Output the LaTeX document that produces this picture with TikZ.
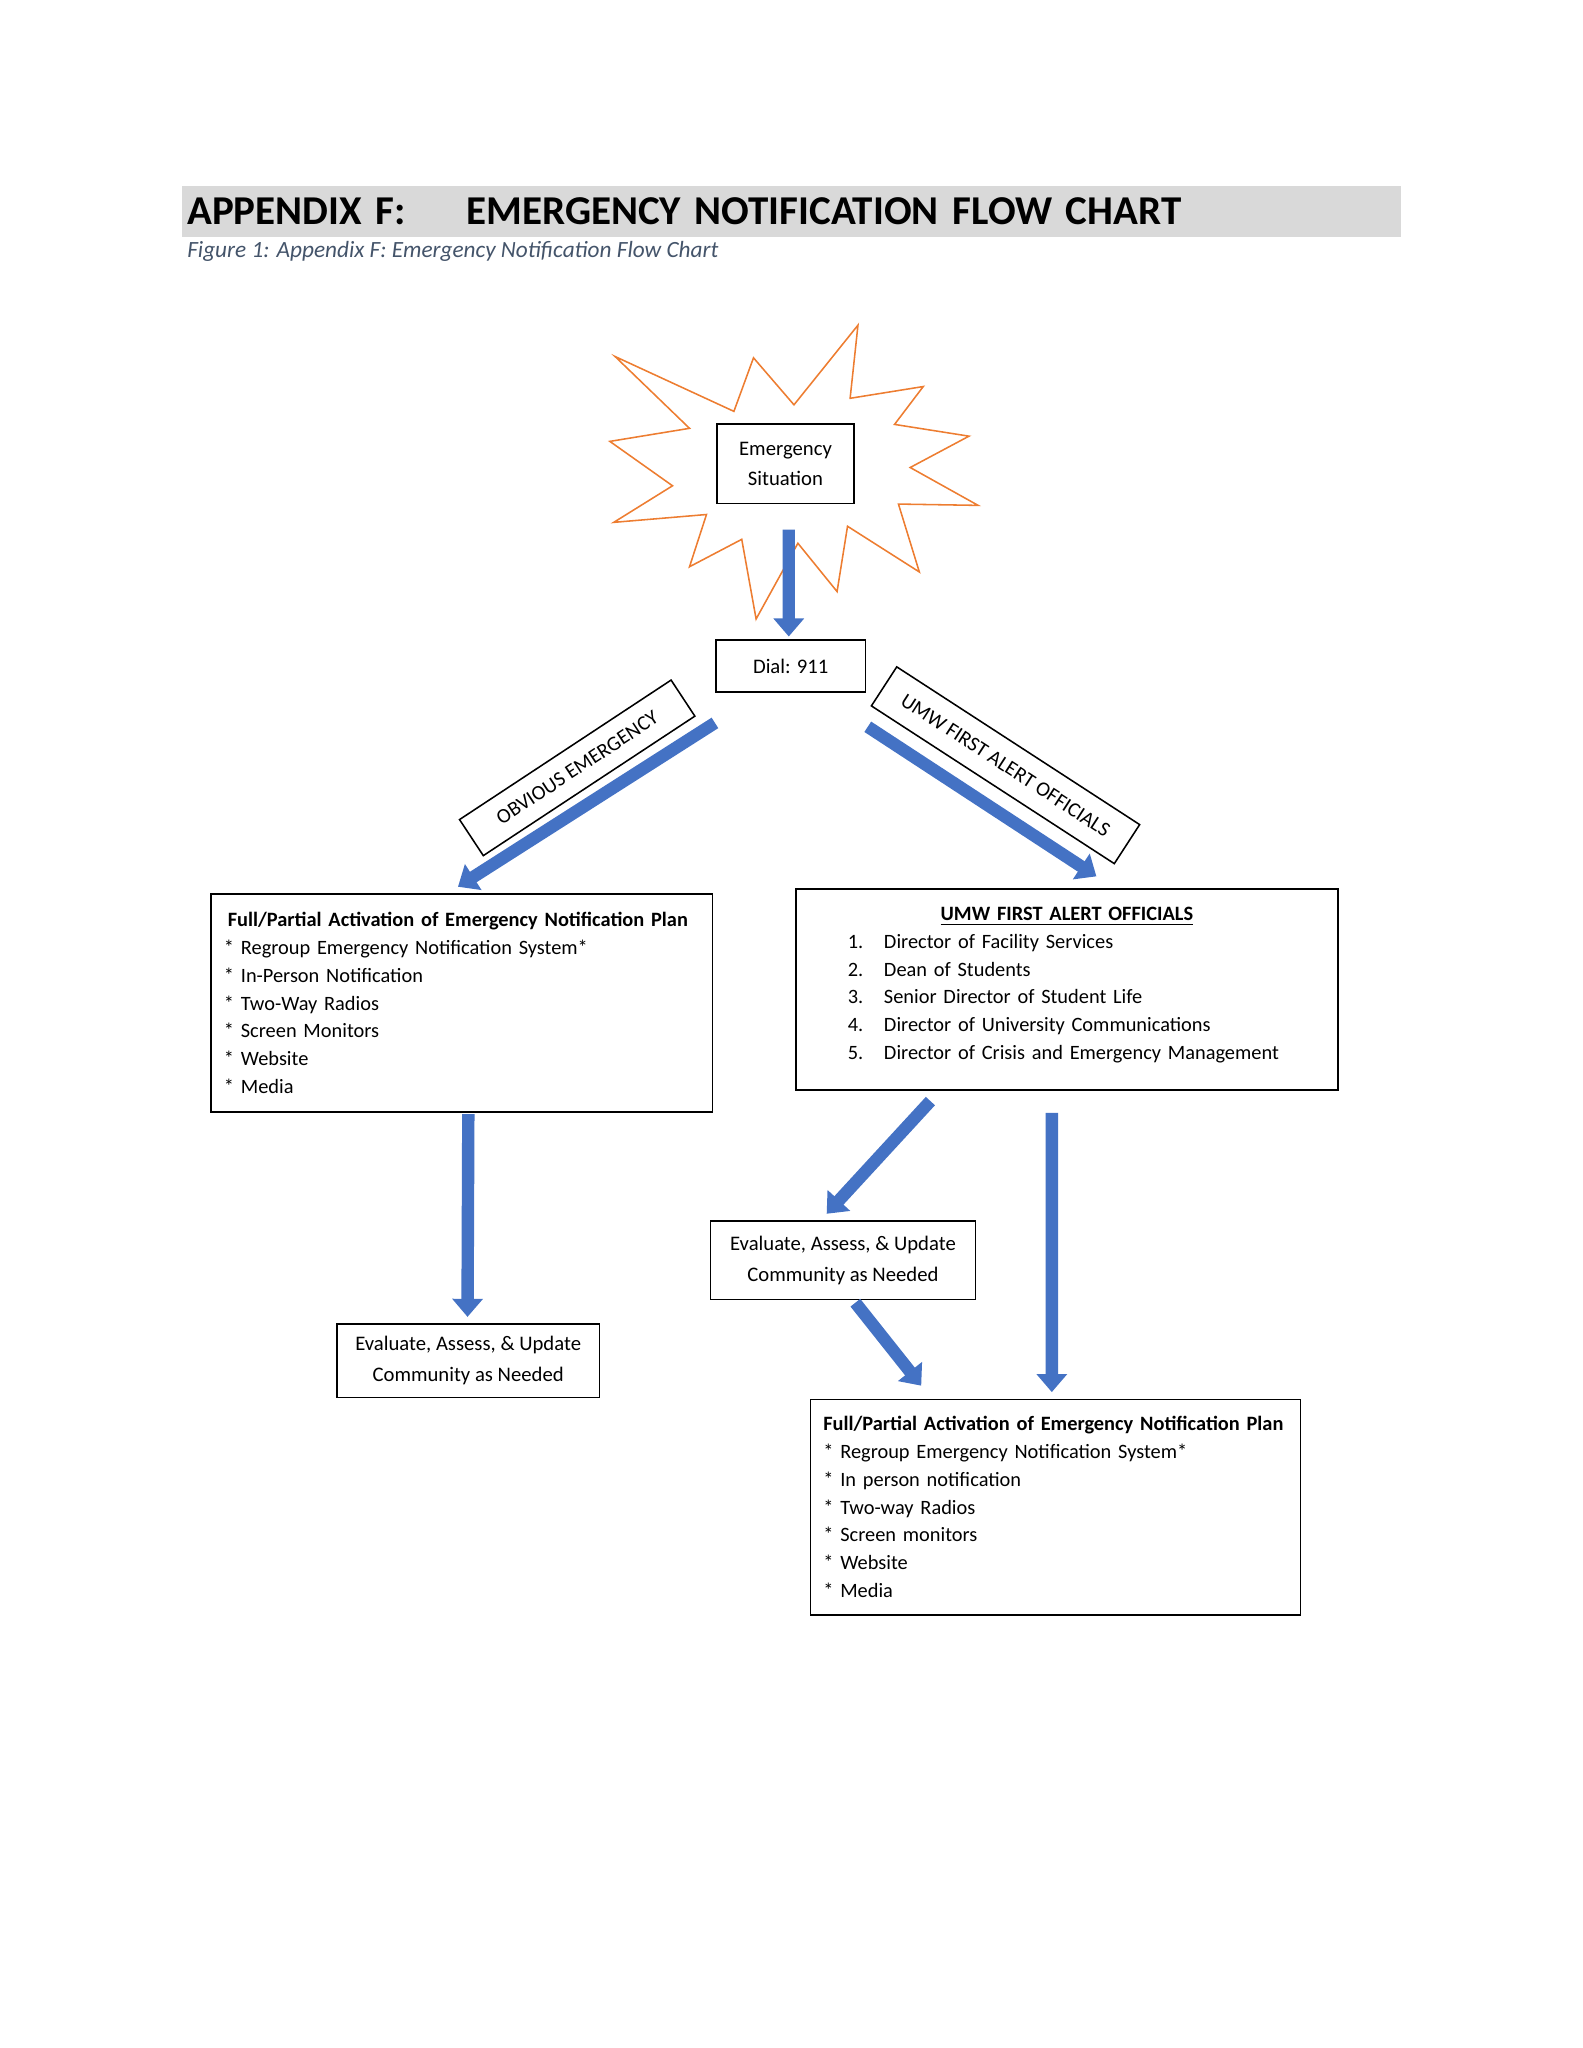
\documentclass[tikz,border=0pt]{standalone}
\usepackage{fontspec}
\setmainfont{Carlito}
\usepackage{xcolor}
\usetikzlibrary{arrows.meta, positioning, calc}
\definecolor{flowblue}{HTML}{4472C4}
\definecolor{burst}{HTML}{ED7D31}
\definecolor{bargray}{HTML}{D9D9D9}
\definecolor{capgray}{HTML}{44546A}

\begin{document}
\begin{tikzpicture}[x=0.505pt, y=-0.505pt,
  box/.style={draw, line width=0.6pt, inner sep=0pt, align=center, font=\fontsize{8}{12}\selectfont},
  listbox/.style={draw, line width=0.6pt, inner xsep=5pt, inner ysep=0pt, anchor=north west, align=left, font=\fontsize{7.88}{10.75}\selectfont},
  tag/.style={draw, line width=0.6pt, inner sep=0pt, font=\fontsize{8}{10}\selectfont},
  flow/.style={flowblue, line width=4.8pt, -{Triangle[length=7pt, width=11.5pt]}}]

\useasboundingbox (0,0) rectangle (1211.9,1568.3);

% Heading
\node[fill=bargray, anchor=north west, minimum width=471.2pt, minimum height=19.7pt, text width=467.2pt, inner xsep=2pt, inner ysep=0pt, align=left, font=\fontsize{15.85}{19}\selectfont\bfseries] (head) at (139,142) {\makebox[108pt][l]{APPENDIX F:}EMERGENCY NOTIFICATION FLOW CHART};
\node[anchor=base west, inner sep=0pt, text=capgray, font=\fontsize{9}{11}\selectfont\itshape] (cap) at (143,197) {Figure 1: Appendix F: Emergency Notification Flow Chart};

% Starburst
\draw[burst, line width=0.6pt, line join=miter] (471,273)
  \foreach \p in {(562,315),(577,274),(608,310),(657,249),(651,305),(707,296),(685,325),(742,334),(697,358),(749,387),(688,386),(704,438),(649,403),(641,453),(611,416),(579,474),(568,413),(528,434),(541,394),(470,400),(515,372),(467,338),(528,328)} {-- \p} -- cycle;
\node[box, fill=white, minimum width=53pt, minimum height=30.8pt, font=\fontsize{8}{11.5}\selectfont] (sit) at (601.5,355) {Emergency\\Situation};

% Dial and the two ways
\node[box, minimum width=58pt, minimum height=20.2pt] (dial) at (605.5,510) {Dial: 911};
\node[tag, rotate=33.4, minimum width=98pt, minimum height=16.7pt] (obv) at (442,588) {OBVIOUS EMERGENCY};
\node[tag, rotate=-33, minimum width=112pt, minimum height=18pt] (fao) at (770,586) {UMW FIRST ALERT OFFICIALS};

% Left branch
\node[listbox, minimum width=194pt, minimum height=84.3pt, text width=184pt] (plan1) at (161,684) {\mbox{\hspace*{1.5pt}\textbf{Full/Partial Activation of Emergency Notification Plan}}\\{}* Regroup Emergency Notification System*\\{}* In-Person Notification\\{}* Two-Way Radios\\{}* Screen Monitors\\{}* Website\\{}* Media};
\node[box, minimum width=101.5pt, minimum height=28.3pt] (eval1) at (358.5,1042) {Evaluate, Assess, \& Update\\Community as Needed};

% Right branch
\node[listbox, minimum width=209.5pt, minimum height=77.8pt, text width=199.5pt] (alert) at (609,680) {\makebox[199.5pt][c]{\textbf{\underline{UMW FIRST ALERT OFFICIALS}}}\\
  \hspace*{15pt}\makebox[14pt][l]{1.}Director of Facility Services\\
  \hspace*{15pt}\makebox[14pt][l]{2.}Dean of Students\\
  \hspace*{15pt}\makebox[14pt][l]{3.}Senior Director of Student Life\\
  \hspace*{15pt}\makebox[14pt][l]{4.}Director of University Communications\\
  \hspace*{15pt}\makebox[14pt][l]{5.}Director of Crisis and Emergency Management\\[-6pt]\mbox{}};
\node[box, minimum width=102.5pt, minimum height=30.3pt] (eval2) at (645.5,965) {Evaluate, Assess, \& Update\\Community as Needed};
\node[listbox, minimum width=189.5pt, minimum height=83.3pt, text width=179.5pt] (plan2) at (620,1071) {\mbox{\textbf{Full/Partial Activation of Emergency Notification Plan}}\\{}* Regroup Emergency Notification System*\\{}* In person notification\\{}* Two-way Radios\\{}* Screen monitors\\{}* Website\\{}* Media};

% Arrows
\draw[flow] ([xshift=1.25pt, yshift=-9.8pt]sit.south) -- ([xshift=-0.75pt, yshift=1pt]dial.north);
\draw[flow] ([yshift=-11.6pt]dial.south west) -- ([xshift=-1.5pt, yshift=2.5pt]plan1.north);
\draw[flow] ([xshift=0.5pt, yshift=-13.1pt]dial.south east) -- ([xshift=11.4pt, yshift=4.5pt]alert.north);
\draw[flow] ([xshift=2.5pt, yshift=-0.5pt]plan1.south) -- ([xshift=-0.25pt, yshift=2.5pt]eval1.north);
\draw[flow] ([xshift=-52.8pt, yshift=-4pt]alert.south) -- ([xshift=-6.3pt, yshift=2.5pt]eval2.north);
\draw[flow] ([xshift=-5.8pt, yshift=-8.6pt]alert.south) -- ([xshift=-1.4pt, yshift=2.5pt]plan2.north);
\draw[flow] ([xshift=4.8pt, yshift=-1pt]eval2.south) -- ([xshift=-51.9pt, yshift=5pt]plan2.north);
\end{tikzpicture}
\end{document}
